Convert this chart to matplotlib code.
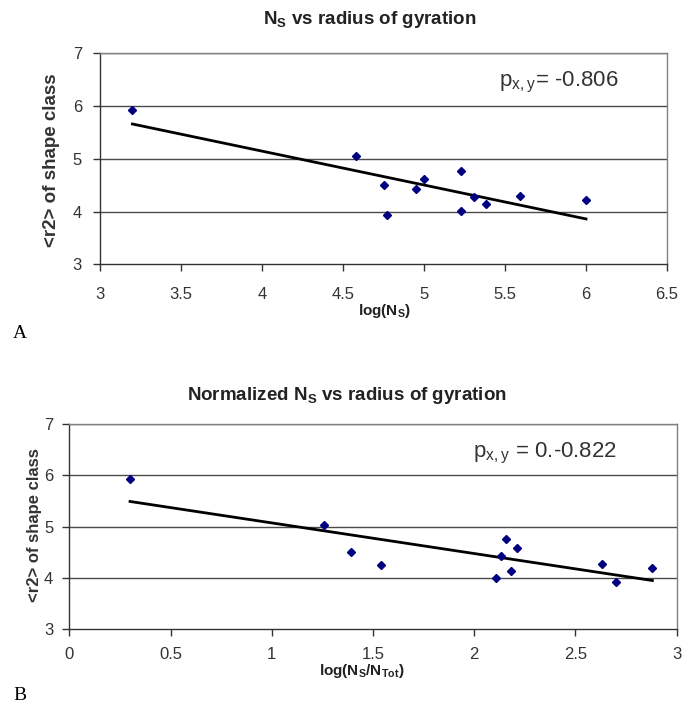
import matplotlib
matplotlib.use("Agg")
import matplotlib.pyplot as plt

plt.rcParams['font.family'] = ['Liberation Sans', 'DejaVu Sans']

# panel A: log(N_S) vs <r2>
log_ns = [3.20, 4.58, 4.75, 4.77, 4.95, 5.00, 5.23, 5.23, 5.31, 5.38, 5.59, 6.00]
r2_a = [5.92, 5.05, 4.50, 3.93, 4.42, 4.62, 4.76, 4.01, 4.27, 4.15, 4.29, 4.21]
trend_a_x = [3.20, 6.00]
trend_a_y = [5.66, 3.86]

# panel B: log(N_S/N_Tot) vs <r2>
log_ns_norm = [0.30, 1.26, 1.39, 1.54, 2.11, 2.13, 2.157, 2.18, 2.21, 2.63, 2.70, 2.88]
r2_b = [5.92, 5.04, 4.51, 4.26, 4.00, 4.43, 4.76, 4.14, 4.59, 4.27, 3.93, 4.20]
trend_b_x = [0.30, 2.88]
trend_b_y = [5.49, 3.95]

xticks_a = [3, 3.5, 4, 4.5, 5, 5.5, 6, 6.5]
xticks_b = [0, 0.5, 1, 1.5, 2, 2.5, 3]
yticks = [3, 4, 5, 6, 7]


def style_axes(ax, xlim, xticks, xpad, ypad):
    ax.set_xlim(*xlim)
    ax.set_ylim(3, 7)
    ax.set_xticks(xticks)
    ax.set_xticklabels(['{:g}'.format(t) for t in xticks])
    ax.set_yticks(yticks)
    for y in yticks[1:]:
        ax.axhline(y, color='#4a4a4a', lw=1.0, zorder=1)
    for s in ['top', 'right']:
        ax.spines[s].set_color('#808080')
        ax.spines[s].set_linewidth(1.0)
    for s in ['left', 'bottom']:
        ax.spines[s].set_color('#333333')
        ax.spines[s].set_linewidth(1.0)
    ax.tick_params(direction='out', length=5, width=1, color='#333333',
                   labelsize=12, labelcolor='#333333')
    ax.tick_params(axis='x', pad=xpad)
    ax.tick_params(axis='y', pad=ypad)


fig = plt.figure(figsize=(6.84, 7.08), dpi=100)


def ftext(x, y, s, **kw):
    fig.text(x / 684, 1 - y / 708, s, **kw)


ax1 = fig.add_axes([0.1462, 0.6267, 0.829, 0.298])
ax1.plot(trend_a_x, trend_a_y, color='black', lw=2, zorder=2)
ax1.plot(log_ns, r2_a, 'D', color='#000080', ms=4, zorder=3)
style_axes(ax1, (3, 6.5), xticks_a, 11, 8)

ax2 = fig.add_axes([0.1013, 0.1112, 0.888, 0.29])
ax2.plot(trend_b_x, trend_b_y, color='black', lw=2, zorder=2)
ax2.plot(log_ns_norm, r2_b, 'D', color='#000080', ms=4, zorder=3)
style_axes(ax2, (0, 3), xticks_b, 8, 6.5)

ftext(618, 82, r'$\mathregular{p_{x,y}}$= -0.806', fontsize=16, color='#333333',
      ha='right', va='center')
ftext(617, 453, r'$\mathregular{p_{x,y}}$ = 0.-0.822', fontsize=16, color='#333333',
      ha='right', va='center')

ftext(370, 20, r'N$_\mathregular{S}$ vs radius of gyration', ha='center', va='center',
      fontsize=13.5, fontweight='bold', color='#222222')
ftext(385, 311, r'log(N$_\mathregular{S}$)', ha='center', va='center',
      fontsize=11, fontweight='bold', color='#222222')
ftext(52, 160, '<r2> of shape class', ha='center', va='center', rotation=90,
      fontsize=13.5, fontweight='bold', color='#333333')

ftext(347, 395, r'Normalized N$_\mathregular{S}$ vs radius of gyration', ha='center',
      va='center', fontsize=13.5, fontweight='bold', color='#222222')
ftext(362, 671, r'log(N$_\mathregular{S}$/N$_\mathregular{Tot}$)', ha='center',
      va='center', fontsize=11, fontweight='bold', color='#222222')
ftext(35, 525, '<r2> of shape class', ha='center', va='center', rotation=90,
      fontsize=12, fontweight='bold', color='#333333')

ftext(20, 334, 'A', ha='center', va='center', fontsize=14, family='Liberation Serif')
ftext(20, 695, 'B', ha='center', va='center', fontsize=14, family='Liberation Serif')

fig.savefig('out.png', dpi=100)
